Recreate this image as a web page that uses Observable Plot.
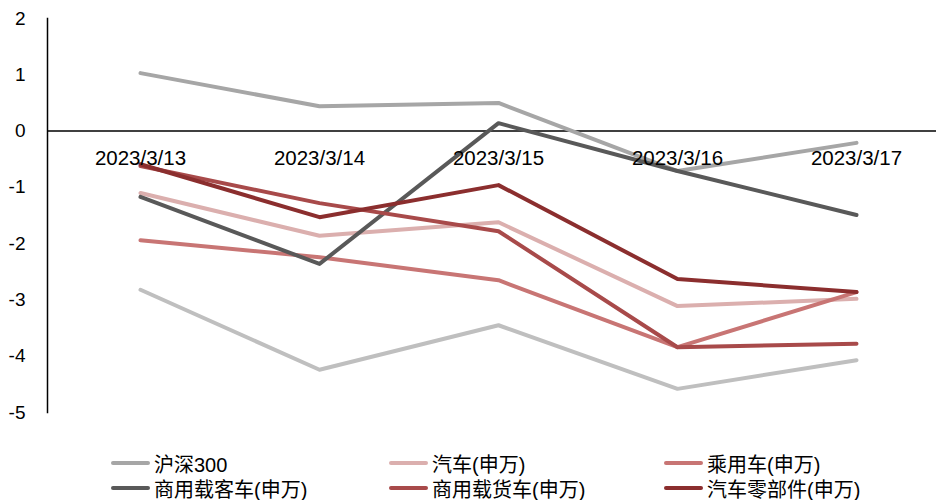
<!DOCTYPE html>
<html>
<head>
<meta charset="utf-8">
<script src="https://cdn.jsdelivr.net/npm/d3@7"></script>
<script src="https://cdn.jsdelivr.net/npm/@observablehq/plot@0.6"></script>
<style>
  html, body { margin: 0; padding: 0; background: #fff; }
  #wrap { position: relative; width: 936px; height: 500px; font-family: "Liberation Sans", Arial, sans-serif; }
  #legend { position: absolute; left: 0; top: 451px; width: 936px; }
  .item { position: absolute; display: flex; align-items: center; height: 24px; font-family: "Liberation Sans", "Noto Sans CJK SC", sans-serif; font-size: 20px; color: #000; white-space: nowrap; }
  .sw { width: 39px; height: 4px; border-radius: 2px; margin-right: 4px; }
</style>
</head>
<body>
<div id="wrap"><div id="chart"></div><div id="legend"></div></div>
<script>
const dates = ["2023/3/13", "2023/3/14", "2023/3/15", "2023/3/16", "2023/3/17"];
const yTicks = [-5, -4, -3, -2, -1, 0, 1, 2];

const seriesNames = ["沪深300", "汽车(申万)", "乘用车(申万)", "商用载客车(申万)", "商用载货车(申万)", "汽车零部件(申万)", "其他"];
const seriesColors = ["#A6A6A6", "#DBAFAE", "#C87574", "#595959", "#A84A4A", "#8B2E2E", "#BFBFBF"];

const hs300      = [1.03, 0.44, 0.50, -0.71, -0.21];
const auto       = [-1.10, -1.86, -1.62, -3.11, -2.98];
const passenger  = [-1.94, -2.24, -2.65, -3.84, -2.86];
const bus        = [-1.17, -2.36, 0.14, -0.71, -1.49];
const truck      = [-0.62, -1.28, -1.78, -3.84, -3.78];
const parts      = [-0.59, -1.53, -0.96, -2.63, -2.86];
const other      = [-2.82, -4.24, -3.45, -4.58, -4.07];

const seriesValues = [hs300, auto, passenger, bus, truck, parts, other];
const legendShown = 6;

const table = [];
seriesNames.forEach((name, i) => {
  seriesValues[i].forEach((v, j) => table.push({series: name, date: dates[j], value: v}));
});

const chart = Plot.plot({
  width: 936,
  height: 425,
  marginLeft: 47,
  marginRight: 0,
  marginTop: 18,
  marginBottom: 13,
  style: {fontFamily: "'Liberation Sans', Arial, sans-serif", fontSize: "19px", color: "#000", background: "#fff"},
  x: {type: "point", domain: dates, range: [139, 857], padding: 0, axis: null},
  y: {domain: [-5, 2], axis: null},
  color: {domain: seriesNames, range: seriesColors},
  marks: [
    Plot.axisY({ticks: yTicks, tickSize: 0, tickPadding: 22, fontSize: 19, tickFormat: d => String(d), label: null}),
    Plot.frame({anchor: "left", stroke: "#000", strokeWidth: 1.5}),
    Plot.ruleY([0], {stroke: "#000", strokeWidth: 1.5}),
    Plot.line(table, {x: "date", y: "value", z: "series", stroke: "series", strokeWidth: 4, strokeLinecap: "round", strokeLinejoin: "round"}),
    Plot.text(dates, {x: d => d, y: d => 0, dy: 27, fontSize: 20.5, fill: "#000", text: d => d})
  ]
});
document.getElementById("chart").appendChild(chart);

const legend = document.getElementById("legend");
const colX = [111, 389, 664];
const rowY = [0, 25];
seriesNames.slice(0, legendShown).forEach((name, i) => {
  const el = document.createElement("div");
  el.className = "item";
  el.style.left = colX[i % 3] + "px";
  el.style.top = rowY[Math.floor(i / 3)] + "px";
  const sw = document.createElement("span");
  sw.className = "sw";
  sw.style.background = seriesColors[i];
  const t = document.createElement("span");
  t.textContent = name;
  el.appendChild(sw);
  el.appendChild(t);
  legend.appendChild(el);
});
</script>
</body>
</html>
